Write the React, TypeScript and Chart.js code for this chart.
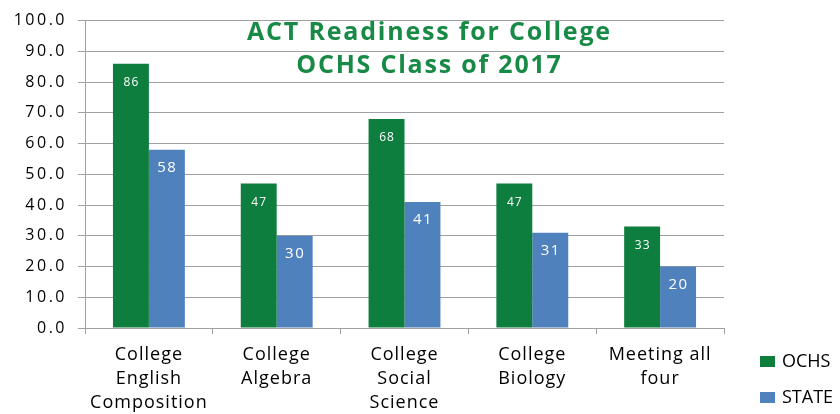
import React, { useEffect, useRef } from "react";
import { Chart, registerables } from "chart.js";

Chart.register(...registerables);

const categories = [
  ["College", "English", "Composition"],
  ["College", "Algebra"],
  ["College", "Social", "Science"],
  ["College", "Biology"],
  ["Meeting all", "four"],
];
const ochs = [86, 47, 68, 47, 33];
const state = [58, 30, 41, 31, 20];
const titleLines = ["ACT Readiness for College", "OCHS Class of 2017"];

const FONT = "'Open Sans', 'DejaVu Sans', sans-serif";
const labelFontSizes = [12, 15];

const spacing = {
  id: "spacing",
  beforeUpdate(chart: any) {
    chart.ctx.letterSpacing = "1px";
  },
  beforeDraw(chart: any) {
    chart.ctx.letterSpacing = "1px";
  },
  afterLayout(chart: any) {
    const y = chart.scales.y;
    if (y && !y.__wrapped) {
      const orig = y.drawLabels.bind(y);
      y.drawLabels = (area: any) => {
        const ctx = chart.ctx;
        const prev = ctx.letterSpacing;
        ctx.letterSpacing = "2.5px";
        orig(area);
        ctx.letterSpacing = prev;
      };
      y.__wrapped = true;
    }
  },
};

const valueLabels = {
  id: "valueLabels",
  afterDatasetsDraw(chart: any) {
    const ctx = chart.ctx;
    ctx.save();
    ctx.fillStyle = "#ffffff";
    ctx.textAlign = "center";
    ctx.textBaseline = "middle";
    chart.data.datasets.forEach((ds: any, i: number) => {
      const meta = chart.getDatasetMeta(i);
      const fs = labelFontSizes[i];
      ctx.font = `${fs}px ${FONT}`;
      ctx.letterSpacing = i === 0 ? "1px" : "1.5px";
      meta.data.forEach((bar: any, j: number) => {
        ctx.fillText(String(ds.data[j]), bar.x + 0.5, bar.y + (i === 0 ? 19 : 18));
      });
    });
    ctx.restore();
  },
};

const innerTitle = {
  id: "innerTitle",
  afterDraw(chart: any) {
    const ctx = chart.ctx;
    const area = chart.chartArea;
    ctx.save();
    ctx.letterSpacing = "1.8px";
    ctx.fillStyle = "#178A45";
    ctx.font = `bold 25px ${FONT}`;
    ctx.textAlign = "center";
    ctx.textBaseline = "middle";
    const cx = area.left + (area.right - area.left) * 0.5375 + 1;
    titleLines.forEach((t, i) => {
      ctx.fillText(t, cx, area.top + 12 + i * 33.5);
    });
    ctx.restore();
  },
};

const sideLegend = {
  id: "sideLegend",
  afterDraw(chart: any) {
    const ctx = chart.ctx;
    const area = chart.chartArea;
    ctx.save();
    ctx.letterSpacing = "0px";
    ctx.font = `18px ${FONT}`;
    ctx.textAlign = "left";
    ctx.textBaseline = "middle";
    chart.data.datasets.forEach((ds: any, i: number) => {
      const cy = area.bottom + 34 + i * 36;
      const bx = area.right + 36;
      ctx.fillStyle = ds.backgroundColor;
      ctx.fillRect(bx, cy - 6, 15, 11);
      ctx.fillStyle = "#000";
      ctx.fillText(ds.label, bx + 22, cy);
    });
    ctx.restore();
  },
};

export default function App() {
  const ref = useRef<HTMLCanvasElement>(null);
  useEffect(() => {
    document.body.style.margin = "0";
    const chart = new Chart(ref.current!, {
      type: "bar",
      data: {
        labels: categories,
        datasets: [
          { label: "OCHS", data: ochs, backgroundColor: "#0E7E3F", categoryPercentage: 0.5625, barPercentage: 1 },
          { label: "STATE", data: state, backgroundColor: "#4F81BD", categoryPercentage: 0.5625, barPercentage: 1 },
        ],
      },
      options: {
        animation: false,
        responsive: false,
        layout: { padding: { top: 18, left: 0, right: 116, bottom: 0 } },
        plugins: {
          title: { display: false },
          tooltip: { enabled: false },
          legend: { display: false },
        },
        scales: {
          x: {
            afterFit: (s: any) => {
              s.height = 86;
            },
            grid: { drawOnChartArea: false, drawTicks: true, tickLength: 6, color: "#A0A0A0" },
            border: { color: "#A0A0A0" },
            ticks: {
              color: "#000",
              font: { family: FONT, size: 18, lineHeight: 1.3333 },
              padding: 9,
              maxRotation: 0,
              autoSkip: false,
            },
          },
          y: {
            min: 0,
            max: 100,
            afterFit: (s: any) => {
              s.width = 85;
            },
            ticks: {
              stepSize: 10,
              color: "#000",
              font: { family: FONT, size: 16 },
              padding: 11,
              callback: (v: any) => Number(v).toFixed(1),
            },
            grid: { color: "#A0A0A0", tickLength: 7 },
            border: { color: "#A0A0A0" },
          },
        },
      },
      plugins: [spacing, valueLabels, innerTitle, sideLegend],
    });
    return () => chart.destroy();
  }, []);
  return (
    <div style={{ width: 840, height: 414 }}>
      <canvas ref={ref} width={840} height={414} />
    </div>
  );
}
